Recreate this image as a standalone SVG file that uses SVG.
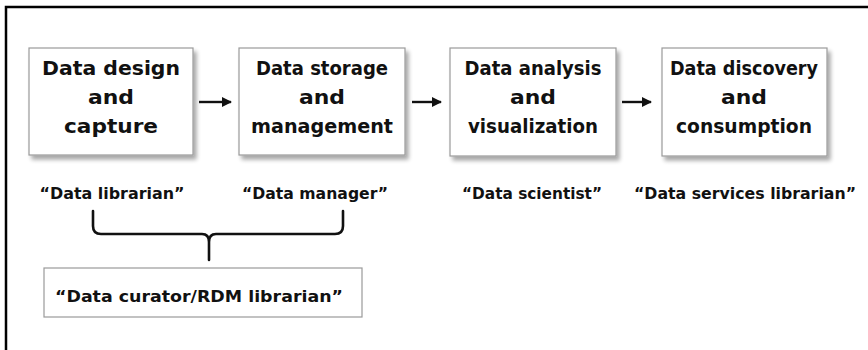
<svg xmlns="http://www.w3.org/2000/svg" width="868" height="350" viewBox="0 0 868 350">
<defs>
<style>
.box{fill:#fff;stroke:#9a9a9a;stroke-width:1.2}
.t{font-family:"DejaVu Sans","Liberation Sans",sans-serif;font-weight:bold;font-size:19.5px;fill:#111;text-anchor:middle}
.l{font-family:"DejaVu Sans","Liberation Sans",sans-serif;font-weight:bold;font-size:16.5px;fill:#111;text-anchor:middle}
.c{fill:none;stroke:#111;stroke-width:2.4}
.br{fill:none;stroke:#111;stroke-width:2.6;stroke-linecap:round;stroke-linejoin:round}
</style>
<filter id="sh" x="-10%" y="-10%" width="130%" height="140%">
<feGaussianBlur in="SourceAlpha" stdDeviation="2"/>
<feOffset dx="3" dy="4" result="b"/>
<feComponentTransfer><feFuncA type="linear" slope="0.35"/></feComponentTransfer>
<feMerge><feMergeNode/><feMergeNode in="SourceGraphic"/></feMerge>
</filter>
<marker id="ah" markerWidth="10" markerHeight="10" refX="9" refY="5" orient="auto" markerUnits="userSpaceOnUse">
<path d="M0,0 L10,5 L0,10 Z" fill="#111"/>
</marker>
</defs>
<rect width="868" height="350" fill="#fff"/>
<path d="M6,350 V7 H868" fill="none" stroke="#000" stroke-width="2.5"/>

<g id="n1">
<rect class="box" x="29" y="48" width="164" height="107" filter="url(#sh)"/>
<text class="t" x="111" y="75" textLength="138" lengthAdjust="spacingAndGlyphs">Data design</text>
<text class="t" x="111" y="104" textLength="46" lengthAdjust="spacingAndGlyphs">and</text>
<text class="t" x="111" y="133" textLength="94" lengthAdjust="spacingAndGlyphs">capture</text>
</g>
<g id="n2">
<rect class="box" x="239" y="48" width="166" height="107" filter="url(#sh)"/>
<text class="t" x="322" y="75" textLength="132" lengthAdjust="spacingAndGlyphs">Data storage</text>
<text class="t" x="322" y="104" textLength="46" lengthAdjust="spacingAndGlyphs">and</text>
<text class="t" x="322" y="133" textLength="142" lengthAdjust="spacingAndGlyphs">management</text>
</g>
<g id="n3">
<rect class="box" x="450" y="48" width="166" height="108" filter="url(#sh)"/>
<text class="t" x="533" y="75" textLength="137" lengthAdjust="spacingAndGlyphs">Data analysis</text>
<text class="t" x="533" y="104" textLength="46" lengthAdjust="spacingAndGlyphs">and</text>
<text class="t" x="533" y="133" textLength="130" lengthAdjust="spacingAndGlyphs">visualization</text>
</g>
<g id="n4">
<rect class="box" x="662" y="48" width="165" height="108" filter="url(#sh)"/>
<text class="t" x="744" y="75" textLength="148" lengthAdjust="spacingAndGlyphs">Data discovery</text>
<text class="t" x="744" y="104" textLength="46" lengthAdjust="spacingAndGlyphs">and</text>
<text class="t" x="744" y="133" textLength="136" lengthAdjust="spacingAndGlyphs">consumption</text>
</g>

<g id="labels">
<text class="l" x="112" y="199" textLength="145" lengthAdjust="spacingAndGlyphs">“Data librarian”</text>
<text class="l" x="315" y="199" textLength="146" lengthAdjust="spacingAndGlyphs">“Data manager”</text>
<text class="l" x="532" y="199" textLength="140" lengthAdjust="spacingAndGlyphs">“Data scientist”</text>
<text class="l" x="745" y="199" textLength="222" lengthAdjust="spacingAndGlyphs">“Data services librarian”</text>
</g>

<g id="n5">
<rect class="box" x="44" y="268" width="318" height="49"/>
<text class="l" x="199" y="302" textLength="288" lengthAdjust="spacingAndGlyphs">“Data curator/RDM librarian”</text>
</g>

<g id="connectors">
<line class="c" x1="199" y1="102" x2="231" y2="102" marker-end="url(#ah)"/>
<line class="c" x1="412" y1="102" x2="441" y2="102" marker-end="url(#ah)"/>
<line class="c" x1="622" y1="102" x2="651" y2="102" marker-end="url(#ah)"/>
<path class="br" d="M93,211 V226 Q93,234 101,234 H202 Q209,234 209,242 V260 M209,242 Q209,234 216,234 H335 Q343,234 343,226 V211"/>
</g>
</svg>
